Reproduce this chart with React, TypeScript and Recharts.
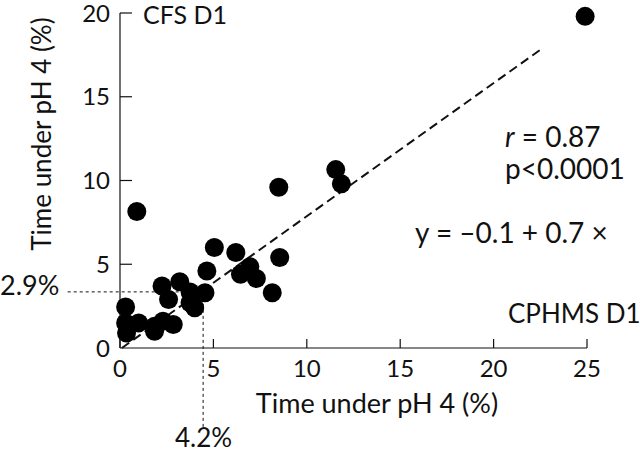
import {
  ScatterChart,
  Scatter,
  XAxis,
  YAxis,
  ReferenceLine,
} from 'recharts';

// CPHMS D1 (x) vs CFS D1 (y), time under pH 4 (%)
const xValues = [0.3, 0.3, 0.35, 1.0, 1.85, 1.85, 2.3, 2.85, 0.9, 2.25, 3.2, 2.6, 3.75, 3.75, 4.0, 4.55, 4.65, 5.05, 6.2, 6.45, 6.95, 7.3, 8.15, 8.55, 8.5, 11.55, 11.85, 24.9];
const yValues = [2.45, 1.5, 0.9, 1.5, 1.3, 1.0, 1.6, 1.4, 8.15, 3.7, 3.95, 2.9, 3.35, 2.7, 2.4, 3.3, 4.6, 6.0, 5.7, 4.4, 4.85, 4.15, 3.3, 5.4, 9.6, 10.65, 9.8, 19.8];

const xTicks = [0, 5, 10, 15, 20, 25];
const yTicks = [0, 5, 10, 15, 20];

// regression line as drawn, and the dotted guide at the cut-off
const fitLine = [{ x: 0.1, y: 0 }, { x: 22.5, y: 17.8 }];
const guideX = 4.45;
const guideY = 3.35;

const FONT = 'Lato, "DejaVu Sans", sans-serif';
const INK = '#111';

const points = xValues.map((x, i) => ({ x, y: yValues[i] }));

function XTick({ x, y, payload }: any) {
  return (
    <g>
      <line x1={x} y1={y} x2={x} y2={y - 9} stroke={INK} strokeWidth={1.2} />
      <text x={x} y={y + 29} textAnchor="middle" fontSize={24} fontFamily={FONT} fill={INK}>
        {payload.value}
      </text>
    </g>
  );
}

function YTick({ x, y, payload }: any) {
  return (
    <g>
      {payload.value !== 0 && (
        <line x1={x} y1={y} x2={x + 12} y2={y} stroke={INK} strokeWidth={1.2} />
      )}
      <text x={x - 10} y={y + 8.5} textAnchor="end" fontSize={24} fontFamily={FONT} fill={INK}>
        {payload.value}
      </text>
    </g>
  );
}

const Dot = (props: any) => <circle cx={props.cx} cy={props.cy} r={9.5} fill="#000" />;

const textStyle: React.CSSProperties = {
  position: 'absolute',
  fontFamily: FONT,
  fontSize: 28,
  color: INK,
  whiteSpace: 'nowrap',
  lineHeight: 1,
};

export default function App() {
  return (
    <div style={{ position: 'absolute', left: 0, top: 0, width: 640, height: 453, background: '#fff', overflow: 'hidden' }}>
      <ScatterChart width={640} height={453} margin={{ top: 13, right: 53, bottom: 45, left: 60 }}>
        <XAxis
          type="number"
          dataKey="x"
          domain={[0, 25]}
          ticks={xTicks}
          tickSize={0}
          tickMargin={0}
          tickLine={false}
          tick={<XTick />}
          stroke={INK}
          strokeWidth={1.2}
          height={60}
          interval={0}
        />
        <YAxis
          type="number"
          dataKey="y"
          domain={[0, 20]}
          ticks={yTicks}
          tickSize={0}
          tickMargin={0}
          tickLine={false}
          tick={<YTick />}
          stroke={INK}
          strokeWidth={1.2}
          width={60}
          interval={0}
        />
        <ReferenceLine
          segment={[{ x: -2.8, y: guideY }, { x: guideX, y: guideY }]}
          stroke={INK}
          strokeDasharray="3 3"
          strokeWidth={1}
          ifOverflow="visible"
        />
        <ReferenceLine
          segment={[{ x: guideX, y: guideY }, { x: guideX, y: -4.9 }]}
          stroke={INK}
          strokeDasharray="3 3"
          strokeWidth={1}
          ifOverflow="visible"
        />
        <ReferenceLine
          segment={fitLine}
          stroke={INK}
          strokeDasharray="9 5"
          strokeWidth={2}
          ifOverflow="visible"
        />
        <Scatter data={points} shape={Dot} isAnimationActive={false} />
      </ScatterChart>
      <div
        style={{
          ...textStyle,
          fontSize: 26,
          left: 41,
          top: 134,
          transform: 'translate(-50%, -50%) rotate(-90deg)',
        }}
      >
        Time under pH 4 (%)
      </div>
      <div style={{ ...textStyle, fontSize: 27, left: 377, top: 389, transform: 'translateX(-50%)' }}>
        Time under pH 4 (%)
      </div>
      <div style={{ ...textStyle, fontSize: 25, left: 143, top: 2 }}>CFS D1</div>
      <div style={{ ...textStyle, left: 505, top: 122 }}><i>r</i> = 0.87</div>
      <div style={{ ...textStyle, left: 505, top: 154 }}>p&lt;0.0001</div>
      <div style={{ ...textStyle, left: 415, top: 218 }}>y = –0.1 + 0.7 ×</div>
      <div style={{ ...textStyle, fontSize: 26, left: 508, top: 300 }}>CPHMS D1</div>
      <div style={{ ...textStyle, fontSize: 27, left: 0, top: 271 }}>2.9%</div>
      <div style={{ ...textStyle, fontSize: 26, left: 175, top: 424 }}>4.2%</div>
    </div>
  );
}
